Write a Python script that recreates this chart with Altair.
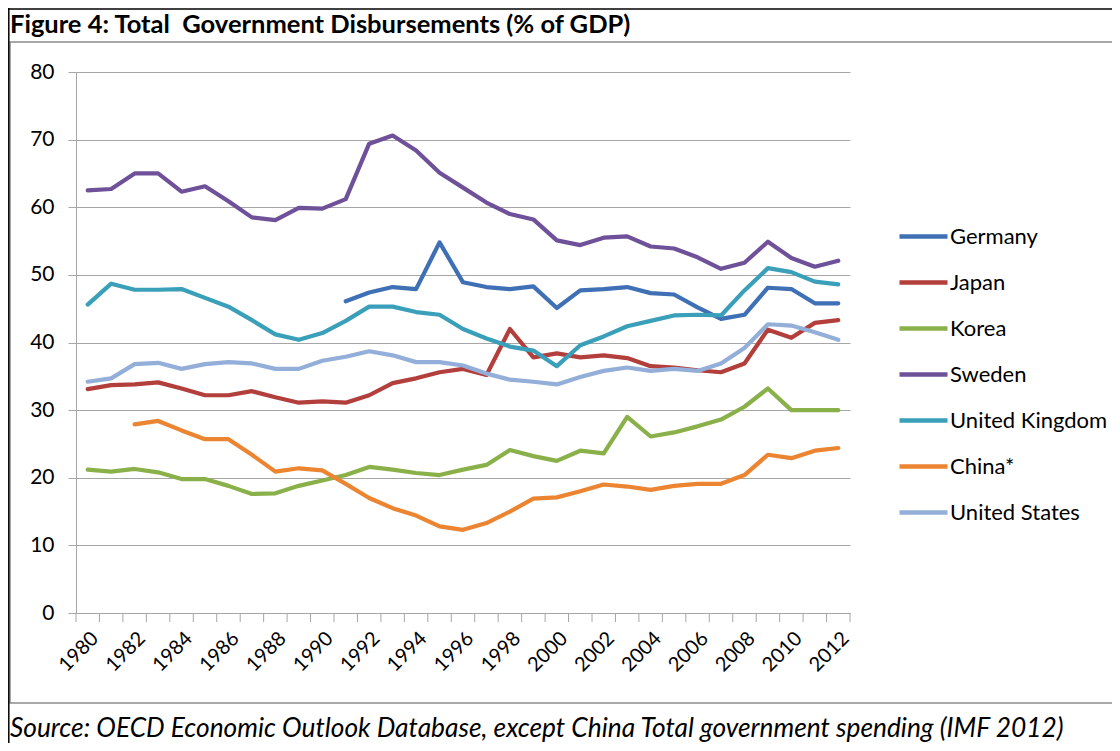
import altair as alt
import pandas as pd

years = list(range(1980, 2013))

germany_start = 1991
germany = [46.1, 47.4, 48.2, 47.9, 54.8, 48.9, 48.2, 47.9, 48.3, 45.1, 47.7,
           47.9, 48.2, 47.3, 47.1, 45.2, 43.5, 44.1, 48.1, 47.9, 45.8, 45.8]
japan = [33.1, 33.7, 33.8, 34.1, 33.2, 32.2, 32.2, 32.8, 31.9, 31.1, 31.3,
         31.1, 32.2, 34.0, 34.7, 35.6, 36.1, 35.2, 42.0, 37.8, 38.4, 37.8,
         38.1, 37.7, 36.5, 36.3, 35.9, 35.6, 36.9, 41.9, 40.7, 42.9, 43.3]
korea = [21.2, 20.9, 21.3, 20.8, 19.8, 19.8, 18.8, 17.6, 17.7, 18.8, 19.6,
         20.4, 21.6, 21.2, 20.7, 20.4, 21.2, 21.9, 24.1, 23.2, 22.5, 24.0,
         23.6, 29.0, 26.1, 26.7, 27.6, 28.6, 30.5, 33.2, 30.0, 30.0, 30.0]
sweden = [62.5, 62.7, 65.0, 65.0, 62.3, 63.1, 60.9, 58.5, 58.1, 59.9, 59.8,
          61.2, 69.4, 70.6, 68.4, 65.1, 62.9, 60.7, 59.0, 58.2, 55.1, 54.4,
          55.5, 55.7, 54.2, 53.9, 52.6, 50.9, 51.8, 54.9, 52.5, 51.2, 52.1]
uk = [45.6, 48.7, 47.8, 47.8, 47.9, 46.6, 45.3, 43.3, 41.2, 40.4, 41.4,
      43.2, 45.3, 45.3, 44.5, 44.1, 42.0, 40.6, 39.4, 38.8, 36.5, 39.6,
      40.9, 42.4, 43.2, 44.0, 44.1, 44.0, 47.7, 51.0, 50.4, 49.0, 48.6]
china_start = 1982
china = [27.9, 28.4, 27.0, 25.7, 25.7, 23.4, 20.9, 21.4, 21.1, 19.1, 17.0,
         15.5, 14.4, 12.8, 12.3, 13.3, 15.0, 16.9, 17.1, 18.0, 19.0, 18.7,
         18.2, 18.8, 19.1, 19.1, 20.4, 23.4, 22.9, 24.0, 24.4]
us = [34.2, 34.7, 36.8, 37.0, 36.1, 36.8, 37.1, 36.9, 36.1, 36.1, 37.3,
      37.9, 38.7, 38.1, 37.1, 37.1, 36.6, 35.4, 34.5, 34.2, 33.8, 34.9,
      35.8, 36.3, 35.8, 36.1, 35.8, 36.9, 39.2, 42.7, 42.5, 41.5, 40.4]

countries = ["Germany", "Japan", "Korea", "Sweden", "United Kingdom", "China*", "United States"]
colors = ["#3F6FB5", "#B23F3C", "#8AB04A", "#6F519A", "#3A9FB9", "#EC8532", "#93AED8"]

series = [
    ("Germany", germany, germany_start),
    ("Japan", japan, 1980),
    ("Korea", korea, 1980),
    ("Sweden", sweden, 1980),
    ("United Kingdom", uk, 1980),
    ("China*", china, china_start),
    ("United States", us, 1980),
]

rows = []
for name, vals, start in series:
    for i, v in enumerate(vals):
        rows.append({"country": name, "year": start + i, "value": v})
df = pd.DataFrame(rows)

tick_bounds = pd.DataFrame({"year": [y - 0.5 for y in years] + [years[-1] + 0.5]})

title_text = "Figure 4: Total \u00a0Government Disbursements (% of GDP)"
source_text = "Source: OECD Economic Outlook Database, except China Total government spending (IMF 2012)"

FONT = "Lato"
GRAY = "#A6A6A6"
W, H = 774, 541

one = pd.DataFrame({"t": [title_text], "s": [source_text]})

frame = alt.Chart(one).mark_rect(fillOpacity=0, stroke="#8C8C8C", strokeWidth=1.5).encode(
    x=alt.value(-66), x2=alt.value(1070), y=alt.value(-30), y2=alt.value(631)
)
black_left = alt.Chart(one).mark_rule(color="black", strokeWidth=1.5).encode(
    x=alt.value(-67.2), y=alt.value(-64), y2=alt.value(700)
)
black_top = alt.Chart(one).mark_rule(color="black", strokeWidth=1.5).encode(
    x=alt.value(-68), x2=alt.value(1070), y=alt.value(-63)
)

title = alt.Chart(one).mark_text(
    font=FONT, fontSize=25.5, fontWeight="bold", align="left", baseline="alphabetic", color="black"
).encode(text="t:N", x=alt.value(-66), y=alt.value(-39))

source = alt.Chart(one).mark_text(
    font=FONT, fontSize=26.3, fontStyle="italic", align="left", baseline="alphabetic", color="black"
).encode(text="s:N", x=alt.value(-66), y=alt.value(665))

xscale = alt.Scale(domain=[1979.5, 2012.5], nice=False, zero=False)

ticks = alt.Chart(tick_bounds).mark_rule(color=GRAY, strokeWidth=1).encode(
    x=alt.X("year:Q", scale=xscale),
    y=alt.value(H), y2=alt.value(H + 9)
)

lines = alt.Chart(df).mark_line(strokeWidth=4.2, strokeJoin="round", strokeCap="round").encode(
    x=alt.X("year:Q", scale=xscale,
            axis=alt.Axis(values=list(range(1980, 2013, 2)), format="d", labelAngle=-45,
                          labelOverlap=False, tickSize=0, grid=False, domainColor=GRAY,
                          labelFont=FONT, labelFontSize=20, labelColor="black",
                          labelPadding=15, title=None)),
    y=alt.Y("value:Q", scale=alt.Scale(domain=[0, 80], nice=False),
            axis=alt.Axis(values=list(range(0, 81, 10)), grid=True, gridColor=GRAY,
                          tickColor=GRAY, tickSize=8, domainColor=GRAY, labelFont=FONT,
                          labelFontSize=21, labelColor="black", labelPadding=14, title=None)),
    color=alt.Color("country:N", scale=alt.Scale(domain=countries, range=colors),
                    legend=alt.Legend(orient="none", legendX=821, legendY=138, title=None,
                                      symbolType="stroke", symbolSize=2304, symbolStrokeWidth=4.5,
                                      labelFont=FONT, labelFontSize=22, labelColor="black",
                                      rowPadding=8, labelOffset=0)),
    order="year:Q",
)

chart = alt.layer(frame, black_left, black_top, title, source, ticks, lines).properties(
    width=W, height=H,
    padding={"left": 68, "top": 64, "right": 262, "bottom": 130},
    autosize=alt.AutoSizeParams(type="none"),
).configure_view(strokeWidth=0)

chart.save("out.html", embed_options={"renderer": "svg", "actions": False})
